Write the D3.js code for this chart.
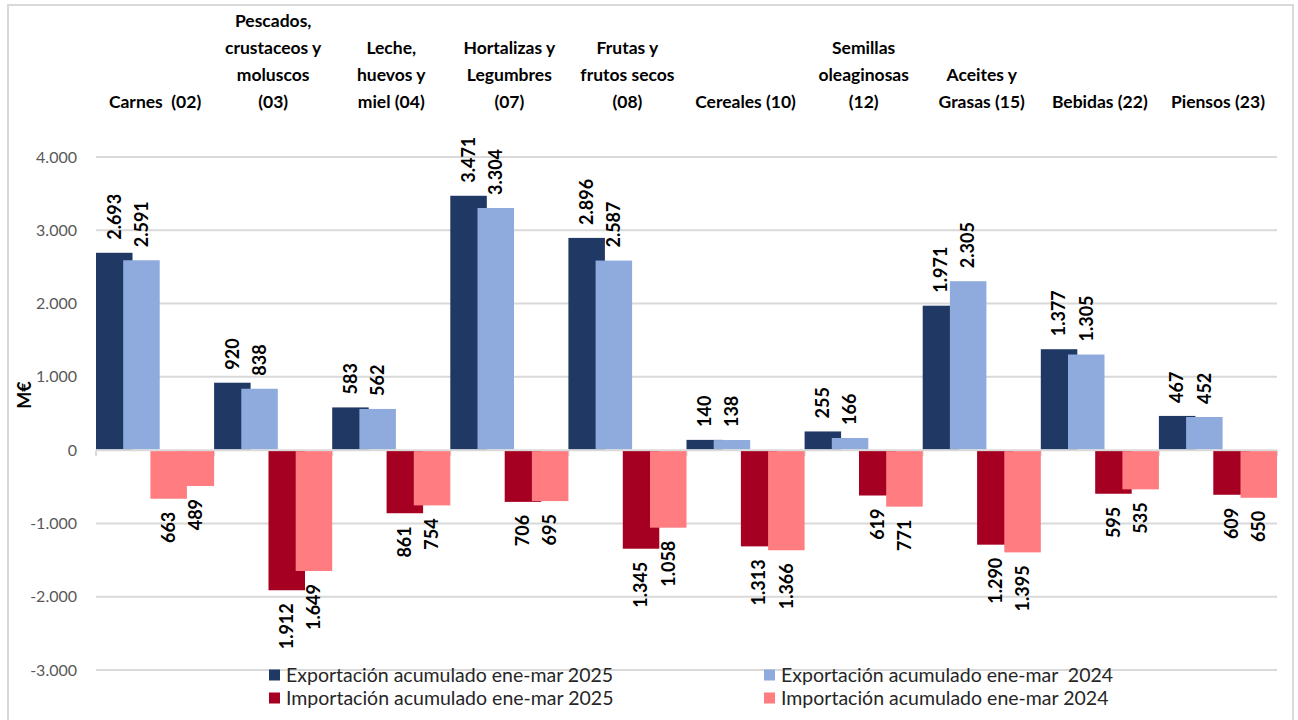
<!DOCTYPE html>
<html>
  <head>
    <meta charset="utf-8">
    <script src="https://cdnjs.cloudflare.com/ajax/libs/d3/7.8.5/d3.min.js"></script>
    <style>
      body { margin: 0; background: #fff; }
      svg { font-family: Lato, "Open Sans", sans-serif; }
      text { white-space: pre; }
      .grid line { stroke: #d9d9d9; stroke-width: 2; }
      .tick-label { fill: #595959; font-size: 16px; }
      .cat-label { fill: #000; font-size: 17.5px; font-weight: bold; }
      .val-label { fill: #000; font-size: 18px; font-weight: bold; }
      .legend text { fill: #262626; font-size: 19.5px; }
    </style>
  </head>
  <body>
    <svg width="1298" height="720"></svg>
    <script>
      // categorias (lineas del rotulo)
      var categories = [
        ["Carnes  (02)"],
        ["Pescados,", "crustaceos y", "moluscos", "(03)"],
        ["Leche,", "huevos y", "miel (04)"],
        ["Hortalizas y", "Legumbres", "(07)"],
        ["Frutas y", "frutos secos", "(08)"],
        ["Cereales (10)"],
        ["Semillas", "oleaginosas", "(12)"],
        ["Aceites y", "Grasas (15)"],
        ["Bebidas (22)"],
        ["Piensos (23)"]
      ];
      var exp2025 = [2693, 920, 583, 3471, 2896, 140, 255, 1971, 1377, 467];
      var exp2024 = [2591, 838, 562, 3304, 2587, 138, 166, 2305, 1305, 452];
      var imp2025 = [-663, -1912, -861, -706, -1345, -1313, -619, -1290, -595, -609];
      var imp2024 = [-489, -1649, -754, -695, -1058, -1366, -771, -1395, -535, -650];
      var yTicks = [-3000, -2000, -1000, 0, 1000, 2000, 3000, 4000];

      var seriesNames = [
        "Exportación acumulado ene-mar 2025",
        "Exportación acumulado ene-mar  2024",
        "Importación acumulado ene-mar 2025",
        "Importación acumulado ene-mar 2024"
      ];
      var seriesColors = ["#203864", "#8faadc", "#a50021", "#ff7c80"];
      var seriesData = [exp2025, exp2024, imp2025, imp2024];

      var fmt = d3.formatLocale({ decimal: ",", thousands: ".", grouping: [3], currency: ["", "€"], minus: "-" }).format(",d");

      var svg = d3.select("svg");

      // marco
      svg.append("rect")
        .attr("x", 8).attr("y", 5).attr("width", 1285).attr("height", 730)
        .attr("fill", "none").attr("stroke", "#d9d9d9").attr("stroke-width", 2);

      var left = 96, right = 1277;
      var x = d3.scaleBand().domain(d3.range(categories.length)).range([left, right]).padding(0);
      var y = d3.scaleLinear().domain([-3000, 4000]).range([670, 157]);

      var overlap = 0.255;
      var barW = x.bandwidth() / (3 * (1 - overlap) + 1);
      var step = barW * (1 - overlap);

      // rejilla
      svg.append("g").attr("class", "grid")
        .selectAll("line").data(yTicks).enter().append("line")
        .attr("x1", left).attr("x2", right)
        .attr("y1", d => y(d)).attr("y2", d => y(d));

      // marcas del eje en cero
      svg.append("g").attr("class", "grid")
        .selectAll("line").data(d3.range(categories.length + 1)).enter().append("line")
        .attr("x1", i => left + i * x.bandwidth()).attr("x2", i => left + i * x.bandwidth())
        .attr("y1", y(0)).attr("y2", y(0) + 6);

      svg.append("g").selectAll("text").data(yTicks).enter().append("text")
        .attr("class", "tick-label")
        .attr("x", 77).attr("y", d => y(d))
        .attr("dy", "0.35em").attr("text-anchor", "end")
        .text(d => fmt(d));

      svg.append("text")
        .attr("transform", "translate(31,395) rotate(-90)")
        .attr("text-anchor", "middle")
        .style("font-size", "18px").style("font-weight", "bold")
        .text("M€");

      // barras
      seriesData.forEach((vals, s) => {
        var g = svg.append("g");
        g.selectAll("rect").data(vals).enter().append("rect")
          .attr("x", (d, i) => x(i) + s * step)
          .attr("width", barW)
          .attr("y", d => d >= 0 ? y(d) : y(0) + 1)
          .attr("height", d => Math.abs(y(d) - y(0)) - 1)
          // en el original la barra de Carnes importación 2025 sale rosa
          .attr("fill", (d, i) => (s == 2 && i == 0) ? seriesColors[3] : seriesColors[s]);

        g.selectAll("text").data(vals).enter().append("text")
          .attr("class", "val-label")
          .attr("transform", (d, i) => {
            var cx = x(i) + s * step + barW / 2;
            var cy = d >= 0 ? y(d) - 13 : y(d) + 13;
            return "translate(" + cx + "," + cy + ") rotate(-90)";
          })
          .attr("dy", "0.35em")
          .attr("text-anchor", d => d >= 0 ? "start" : "end")
          .text(d => fmt(Math.abs(d)));
      });

      // rotulos de categoria
      var lineH = 27;
      categories.forEach((lines, i) => {
        var t = svg.append("text").attr("class", "cat-label")
          .attr("text-anchor", "middle");
        lines.forEach((ln, k) => {
          t.append("tspan")
            .attr("x", x(i) + x.bandwidth() / 2)
            .attr("y", 108 - (lines.length - 1 - k) * lineH)
            .text(ln);
        });
      });

      // leyenda
      var legPos = [[269, 675], [764, 675], [269, 698], [764, 698]];
      var leg = svg.append("g").attr("class", "legend");
      [0, 1, 2, 3].forEach(s => {
        var p = legPos[s];
        leg.append("rect").attr("x", p[0]).attr("y", p[1] - 5.5)
          .attr("width", 11).attr("height", 11).attr("fill", seriesColors[s]);
        leg.append("text").attr("x", p[0] + 17).attr("y", p[1])
          .attr("dy", "0.35em").text(seriesNames[s]);
      });
    </script>
  </body>
</html>
